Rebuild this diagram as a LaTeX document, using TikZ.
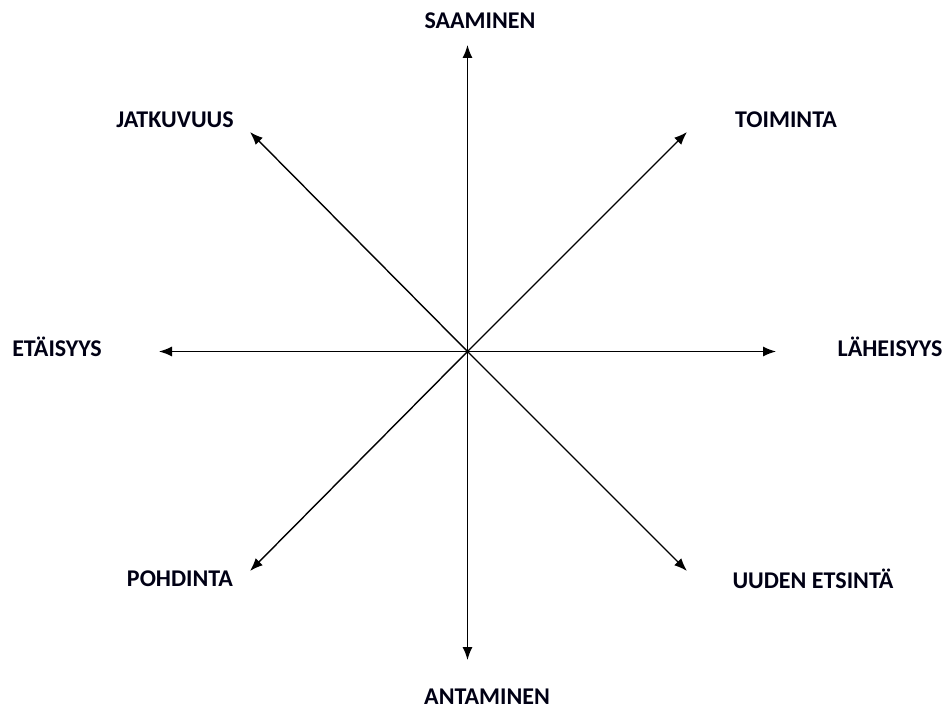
\documentclass[tikz,border=0pt]{standalone}
\usepackage{fontspec}
\setmainfont{Carlito}
\usetikzlibrary{arrows.meta}

\tikzstyle{dir} = [font=\fontsize{24}{28}\selectfont\bfseries, text=black!92!blue, inner sep=0pt]
\tikzstyle{axis} = [line width=1.4pt, -{Latex[length=13pt,width=10pt]}]

\begin{document}
\begin{tikzpicture}[x=1pt, y=-1pt]
\useasboundingbox (0,0) rectangle (946,711);
\coordinate (o) at (467.5,351.5);
% arrow ends
\coordinate (n) at (467.5,45);
\coordinate (s) at (467.5,660);
\coordinate (w) at (159,351.5);
\coordinate (e) at (776,351.5);
\coordinate (ne) at (687,132);
\coordinate (nw) at (250,132);
\coordinate (sw) at (250,571);
\coordinate (se) at (687,571);
\foreach \p in {n,s,w,e,ne,nw,sw,se}
    \draw[axis] (o) -- (\p);
% labels
\node[dir] (saaminen) at (480,21) {SAAMINEN};
\node[dir] (toiminta) at (786,120) {TOIMINTA};
\node[dir] (jatkuvuus) at (175,120) {JATKUVUUS};
\node[dir] (etaisyys) at (57,347) {ETÄISYYS};
\node[dir] (laheisyys) at (890,347) {LÄHEISYYS};
\node[dir] (pohdinta) at (180,579) {POHDINTA};
\node[dir] (etsinta) at (813,579) {UUDEN ETSINTÄ};
\node[dir] (antaminen) at (487,697) {ANTAMINEN};
\end{tikzpicture}
\end{document}
